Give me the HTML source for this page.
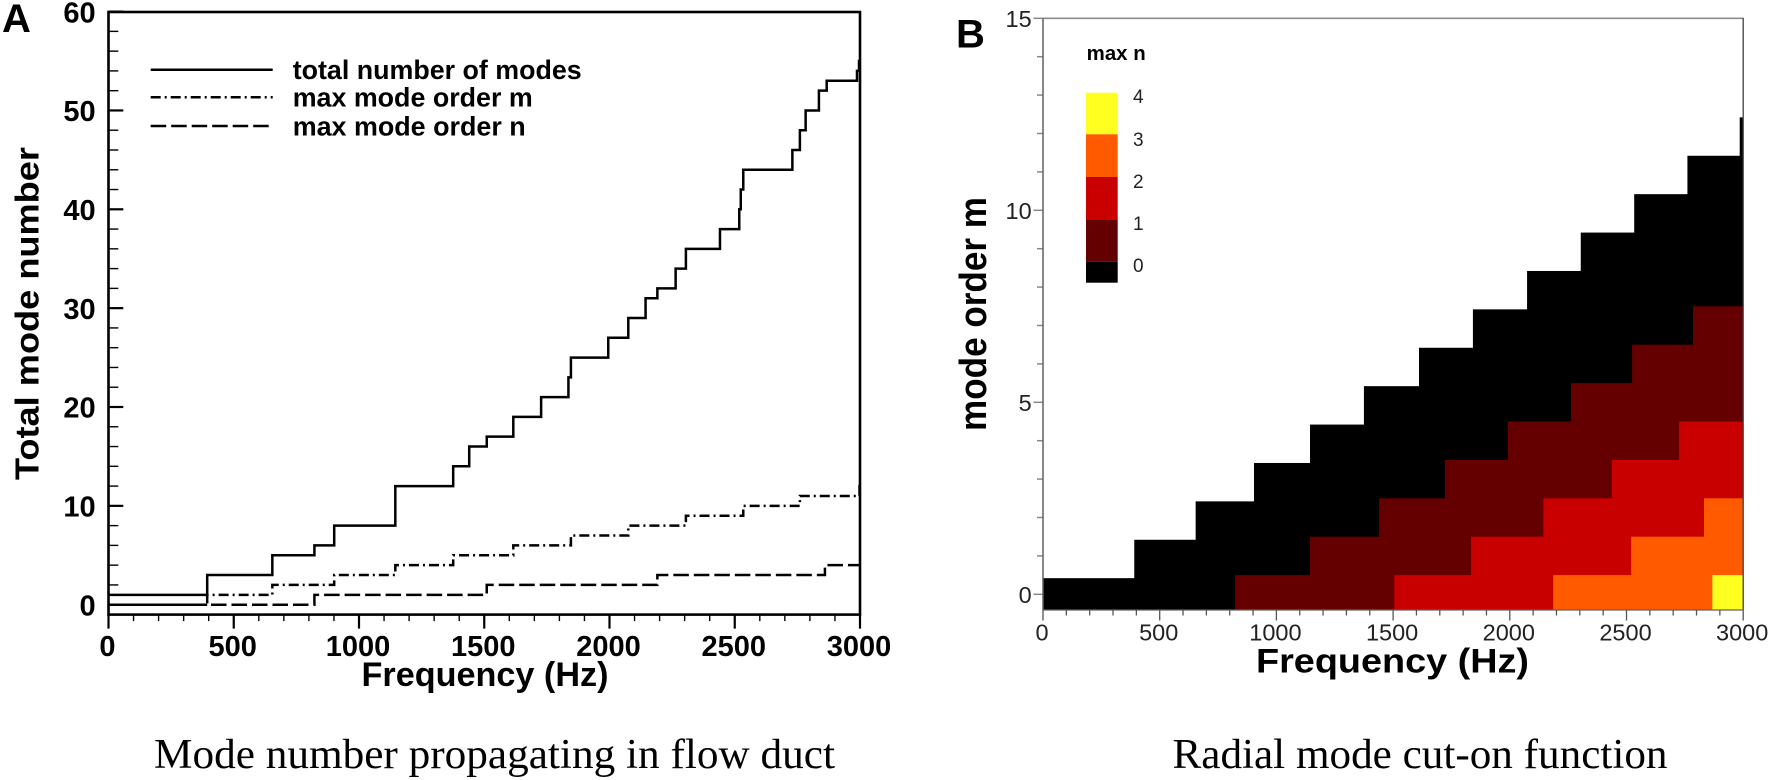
<!DOCTYPE html>
<html lang="en">
<head>
<meta charset="utf-8">
<title>Mode number and radial mode cut-on charts</title>
<style>
html,body{margin:0;padding:0;background:#fff;}
svg{display:block;}
text{font-family:"Liberation Sans",Arial,sans-serif;}
.cap{font-family:"Liberation Serif","Times New Roman",serif;font-size:42px;fill:#000;}
.ta{font-size:29px;font-weight:bold;fill:#000;}
.tb{font-size:23.5px;fill:#222;}
.title{font-weight:bold;fill:#000;}
</style>
</head>
<body>
<svg id="figure" xmlns="http://www.w3.org/2000/svg" width="1772" height="780" viewBox="0 0 1772 780">
  <rect x="0" y="0" width="1772" height="780" fill="#fff"/>

  <g id="chartA"></g>
  <g id="chartB"></g>

  <text class="title" x="2" y="32" font-size="40">A</text>
  <text class="title" x="956" y="47.5" font-size="40">B</text>

  <text class="title" x="361.5" y="686" font-size="34" textLength="247" lengthAdjust="spacingAndGlyphs">Frequency (Hz)</text>
  <text class="title" transform="translate(38.3,480) rotate(-90)" font-size="33" textLength="333" lengthAdjust="spacingAndGlyphs">Total mode number</text>

  <text class="title" x="1256" y="672.5" font-size="34" textLength="273" lengthAdjust="spacingAndGlyphs">Frequency (Hz)</text>
  <text class="title" transform="translate(986,431) rotate(-90)" font-size="38" textLength="234" lengthAdjust="spacingAndGlyphs">mode order m</text>

  <g>
    <line x1="150.7" y1="69.7" x2="272.7" y2="69.7" stroke="#000" stroke-width="2.5"/>
    <line x1="150.7" y1="97.3" x2="272.7" y2="97.3" stroke="#000" stroke-width="2.5" stroke-dasharray="10 4 2 4"/>
    <line x1="150.7" y1="126" x2="272.7" y2="126" stroke="#000" stroke-width="2.5" stroke-dasharray="15.5 5"/>
    <text class="title" x="292.7" y="79" font-size="27" textLength="289" lengthAdjust="spacingAndGlyphs">total number of modes</text>
    <text class="title" x="292.7" y="106.7" font-size="27" textLength="240" lengthAdjust="spacingAndGlyphs">max mode order m</text>
    <text class="title" x="292.7" y="135.3" font-size="27" textLength="233" lengthAdjust="spacingAndGlyphs">max mode order n</text>
  </g>

  <g>
    <text class="title" x="1086.7" y="60" font-size="20" textLength="59" lengthAdjust="spacingAndGlyphs">max n</text>
    <rect x="1086" y="92.7" width="31.7" height="41.6" fill="#ffff20"/>
    <rect x="1086" y="134.3" width="31.7" height="42.7" fill="#ff5a00"/>
    <rect x="1086" y="177" width="31.7" height="43" fill="#c80000"/>
    <rect x="1086" y="220" width="31.7" height="41.7" fill="#640000"/>
    <rect x="1086" y="261.7" width="31.7" height="21" fill="#000"/>
    <text x="1133" y="103" font-size="19" fill="#222">4</text>
    <text x="1133" y="146" font-size="19" fill="#222">3</text>
    <text x="1133" y="188" font-size="19" fill="#222">2</text>
    <text x="1133" y="230" font-size="19" fill="#222">1</text>
    <text x="1133" y="272" font-size="19" fill="#222">0</text>
  </g>

  <text class="cap" x="154" y="768" textLength="681" lengthAdjust="spacingAndGlyphs">Mode number propagating in flow duct</text>
  <text class="cap" x="1172.5" y="768" textLength="495" lengthAdjust="spacingAndGlyphs">Radial mode cut-on function</text>
</svg>

<script>
/* Chart A data: frequency at which each step occurs, and the value reached */
const totalFreqs = [394,654,822,901,1145,1376,1440,1510,1616,1727,1836,1846,1995,2075,2144,2191,2264,2305,2441,2518,2524,2534,2730,2760,2783,2836,2867,2988,2996];
const totalValues = [3,5,6,8,12,14,16,17,19,21,23,25,27,29,31,32,34,36,38,40,42,44,46,48,50,52,53,54,55];
const totalStart = 1;
const mFreqs = [394,654,901,1145,1376,1616,1846,2075,2305,2534,2760,2998];
const mValues = [1,2,3,4,5,6,7,8,9,10,11,12];
const mStart = 0;
const nFreqs = [822,1510,2191,2860];
const nValues = [1,2,3,4];
const nStart = 0;
const xTickLabelsA = [0,500,1000,1500,2000,2500,3000];
const yTickLabelsA = [0,10,20,30,40,50,60];

/* Chart B data: per mode order m, the frequency at which radial order n cuts on */
const modeOrders = [0,1,2,3,4,5,6,7,8,9,10,11,12];
const cutOnN0 = [0,391,654,904,1144,1375,1611,1842,2074,2304,2533,2761,2985];
const cutOnN1 = [823,1144,1440,1722,1992,2262,2524,2785];
const cutOnN2 = [1505,1834,2144,2438,2725];
const cutOnN3 = [2186,2520,2832];
const cutOnN4 = [2868];
const xTickLabelsB = [0,500,1000,1500,2000,2500,3000];
const yTickLabelsB = [0,5,10,15];

const SVGNS = 'http://www.w3.org/2000/svg';
function make(parent, tag, attrs, txt) {
  const el = document.createElementNS(SVGNS, tag);
  for (const k in attrs) el.setAttribute(k, attrs[k]);
  if (txt !== undefined) el.textContent = txt;
  parent.appendChild(el);
  return el;
}

/* ---------- Chart A ---------- */
const gA = document.getElementById('chartA');
const xA = f => 108.5 + 0.2505 * f;
const yA = v => 604.7 - 9.885 * v;
const Y_BOTTOM_A = 614.6;
const Y_TOP_A = 12;

for (let f = 0; f <= 3000; f += 100) {
  const major = f % 500 === 0;
  const t = make(gA, 'line', {x1:xA(f), x2:xA(f), y1:Y_BOTTOM_A, y2:Y_BOTTOM_A + (major ? 14 : 6.5), stroke:'#000', 'stroke-width': major ? 2.2 : 1.4});
  
  
}
for (let v = 0; v <= 60; v += 2) {
  const major = v % 10 === 0;
  const t = make(gA, 'line', {x1:108.5, x2:major ? 123.3 : 118.3, y1:yA(v), y2:yA(v), stroke:'#000', 'stroke-width': major ? 2.2 : 1.4});
  
  
}
xTickLabelsA.forEach(f => {
  const t = make(gA, 'text', {x:xA(f) - 1, y:656, 'text-anchor':'middle', class:'ta'}, String(f));
  
  
});
yTickLabelsA.forEach(v => {
  const t = make(gA, 'text', {x:95.7, y:yA(v) + 10.7, 'text-anchor':'end', class:'ta'}, String(v));
  
  
});

function stepPath(start, freqs, values) {
  let d = 'M' + xA(0) + ' ' + yA(start);
  freqs.forEach((f, i) => {
    d += ' H' + xA(f).toFixed(2) + ' V' + yA(values[i]).toFixed(2);
  });
  const last = freqs[freqs.length - 1];
  if (last < 3000) d += ' H' + xA(3000);
  return d;
}
const total = make(gA, 'path', {d:stepPath(totalStart, totalFreqs, totalValues), fill:'none', stroke:'#000', 'stroke-width':2.5});


const mLine = make(gA, 'path', {d:stepPath(mStart, mFreqs, mValues), fill:'none', stroke:'#000', 'stroke-width':2.5, 'stroke-dasharray':'10 4 2 4'});


const nLine = make(gA, 'path', {d:stepPath(nStart, nFreqs, nValues), fill:'none', stroke:'#000', 'stroke-width':2.5, 'stroke-dasharray':'15.5 5'});


/* m and n overlap along zero before the first step, which reads as a solid line */
const overlap = make(gA, 'line', {x1:xA(0), x2:xA(Math.min(mFreqs[0], nFreqs[0])), y1:yA(mStart), y2:yA(nStart), stroke:'#000', 'stroke-width':2.5});



const frameA = make(gA, 'rect', {x:108.5, y:Y_TOP_A, width:xA(3000) - 108.5, height:Y_BOTTOM_A - Y_TOP_A, fill:'none', stroke:'#000', 'stroke-width':2.6});



/* ---------- Chart B ---------- */
const gB = document.getElementById('chartB');
const xB = f => 1043 + 0.2334 * f;
const yB = v => 594.3 - 38.4 * v;
const Y_BOTTOM_B = 610;
const Y_TOP_B = 18.3;

/* Black cells run to the plot floor; the black staircase top sits slightly below the row edge */
cutOnN0.forEach((f, i) => {
  const top = yB(modeOrders[i] + 0.42);
  const r = make(gB, 'rect', {x:xB(f).toFixed(2), y:top.toFixed(2), width:(xB(3000) - xB(f)).toFixed(2), height:(Y_BOTTOM_B - top).toFixed(2), fill:'#000'});
  
  
});

/* Coloured cells are painted from high m to low m with a 1px overlap, so no seams show */
function cellsFor(starts, color, name) {
  for (let i = starts.length - 1; i >= 0; i--) {
    const f = starts[i];
    const m = modeOrders[i];
    const top = yB(m + 0.5);
    const bottom = Math.min(yB(m - 0.5) + 1, Y_BOTTOM_B);
    const r = make(gB, 'rect', {x:xB(f).toFixed(2), y:top.toFixed(2), width:(xB(3000) - xB(f)).toFixed(2), height:(bottom - top).toFixed(2), fill:color});
    
    
  }
}
cellsFor(cutOnN1, '#640000', 'cell-max-n-1');
cellsFor(cutOnN2, '#c80000', 'cell-max-n-2');
cellsFor(cutOnN3, '#ff5a00', 'cell-max-n-3');
cellsFor(cutOnN4, '#ffff20', 'cell-max-n-4');

for (let f = 0; f <= 3000; f += 100) {
  const major = f % 500 === 0;
  const t = make(gB, 'line', {x1:xB(f), x2:xB(f), y1:Y_BOTTOM_B, y2:Y_BOTTOM_B + (major ? 10.5 : 5.5), stroke:'#555', 'stroke-width': 1.3});
  
  
}
for (let v = 0; v <= 15; v += 1) {
  const major = v % 5 === 0;
  const t = make(gB, 'line', {x1:xB(0), x2:xB(0) - (major ? 9.5 : 6), y1:yB(v), y2:yB(v), stroke:'#888', 'stroke-width': 1.5});
  
  
}
xTickLabelsB.forEach(f => {
  const t = make(gB, 'text', {x:xB(f) - 1, y:640.7, 'text-anchor':'middle', class:'tb'}, String(f));
  
  
});
yTickLabelsB.forEach(v => {
  const t = make(gB, 'text', {x:1031.7, y:yB(v) + 8.5, 'text-anchor':'end', class:'tb'}, String(v));
  
  
});

const topB = make(gB, 'line', {x1:xB(0), x2:xB(3000) + 0.5, y1:Y_TOP_B, y2:Y_TOP_B, stroke:'#8c8c8c', 'stroke-width':1.6});


const leftB = make(gB, 'line', {x1:xB(0), x2:xB(0), y1:Y_TOP_B, y2:Y_BOTTOM_B, stroke:'#606060', 'stroke-width':1.5});


const rightB = make(gB, 'line', {x1:xB(3000), x2:xB(3000), y1:Y_TOP_B, y2:Y_BOTTOM_B, stroke:'#404040', 'stroke-width':1.3});


const bottomB = make(gB, 'line', {x1:xB(0), x2:xB(3000), y1:Y_BOTTOM_B, y2:Y_BOTTOM_B, stroke:'#606060', 'stroke-width':1.3});


</script>
</body>
</html>
